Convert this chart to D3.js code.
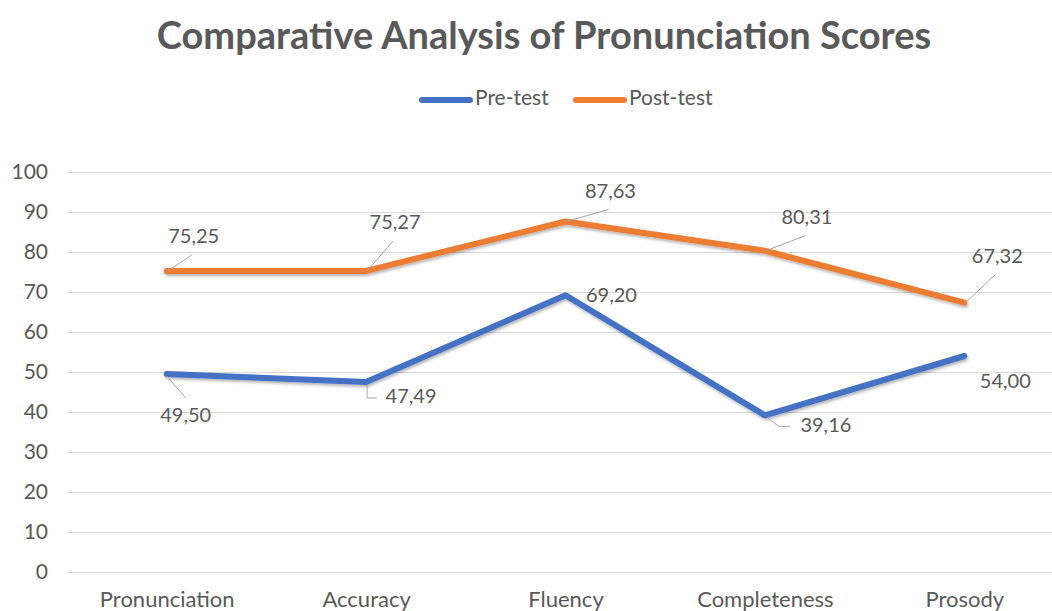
<!DOCTYPE html>
<html>
<head>
<meta charset="utf-8">
<script src="https://cdn.jsdelivr.net/npm/d3@7"></script>
<style>
  body { margin: 0; background: #fff; }
  text { font-family: Lato, "Open Sans", sans-serif; fill: #595959; }
</style>
</head>
<body>
<div id="wrapper"></div>
<script>
// chart data
const categories = ["Pronunciation", "Accuracy", "Fluency", "Completeness", "Prosody"]
const preTest = [49.50, 47.49, 69.20, 39.16, 54.00]
const postTest = [75.25, 75.27, 87.63, 80.31, 67.32]
const seriesNames = ["Pre-test", "Post-test"]
const yTicks = [0, 10, 20, 30, 40, 50, 60, 70, 80, 90, 100]

// label placement relative to each point (dx, dy) and leader style
const preLabelPos = [[19, 43], [45, 16], [46, 2], [61, 12], [41, 27]]
const preLeader = ["diag", "drop", "none", "kink", "none"]
const postLabelPos = [[27, -33], [29, -47], [45, -29], [42, -32], [33, -45]]
const postLeader = ["diag", "diag", "diag", "diag", "diag"]

const colors = ["#4472C4", "#ED7D31"]

let dimensions = {
  width: 1052,
  height: 611,
  margin: {
    top: 172,
    right: -12,
    bottom: 39,
    left: 67,
  },
}
dimensions.boundedWidth = dimensions.width
  - dimensions.margin.left
  - dimensions.margin.right
dimensions.boundedHeight = dimensions.height
  - dimensions.margin.top
  - dimensions.margin.bottom

const wrapper = d3.select("#wrapper")
  .append("svg")
    .attr("width", dimensions.width)
    .attr("height", dimensions.height)

const defs = wrapper.append("defs")
const shadow = defs.append("filter").attr("id", "shadow")
  .attr("x", "-5%").attr("y", "-20%").attr("width", "110%").attr("height", "140%")
shadow.append("feDropShadow")
  .attr("dx", 1).attr("dy", 2).attr("stdDeviation", 1.5)
  .attr("flood-color", "#000").attr("flood-opacity", 0.3)

// title
wrapper.append("text")
  .attr("x", 544)
  .attr("y", 49)
  .attr("text-anchor", "middle")
  .style("font-size", "38px")
  .style("font-weight", "bold")
  .text("Comparative Analysis of Pronunciation Scores")

// legend
const legendItems = [
  { x: 420, name: seriesNames[0], color: colors[0] },
  { x: 574, name: seriesNames[1], color: colors[1] },
]
const legendGroup = wrapper.append("g")
legendItems.forEach(d => {
  legendGroup.append("line")
    .attr("x1", d.x + 2).attr("x2", d.x + 50)
    .attr("y1", 100).attr("y2", 100)
    .attr("stroke", d.color)
    .attr("stroke-width", 6)
    .attr("stroke-linecap", "round")
  legendGroup.append("text")
    .attr("x", d.x + 55).attr("y", 100)
    .attr("dominant-baseline", "middle")
    .style("font-size", "21px")
    .text(d.name)
})

const bounds = wrapper.append("g")
  .attr("transform", `translate(${dimensions.margin.left},${dimensions.margin.top})`)

const xScale = d3.scalePoint()
  .domain(categories)
  .range([0, dimensions.boundedWidth])
  .padding(0.5)

const yScale = d3.scaleLinear()
  .domain([0, 100])
  .range([dimensions.boundedHeight, 0])

// gridlines + y axis
const yAxis = bounds.append("g")
  .call(d3.axisLeft(yScale)
    .tickValues(yTicks)
    .tickSize(-dimensions.boundedWidth)
    .tickPadding(19))
yAxis.select(".domain").remove()
yAxis.selectAll(".tick line").attr("stroke", "#d9d9d9").attr("stroke-width", 1.2)
yAxis.selectAll(".tick text")
  .style("font-size", "21px")
  .style("fill", "#595959")
  .attr("font-family", null)

// x axis labels
const xAxis = bounds.append("g")
  .attr("transform", `translate(0,${dimensions.boundedHeight})`)
  .call(d3.axisBottom(xScale).tickSize(0).tickPadding(19))
xAxis.select(".domain").attr("stroke", "#d9d9d9").attr("stroke-width", 1.2)
xAxis.selectAll(".tick text")
  .style("font-size", "22px")
  .style("fill", "#595959")
  .attr("font-family", null)

const lineGenerator = d3.line()
  .x((d, i) => xScale(categories[i]))
  .y(d => yScale(d))

const series = [
  { values: preTest, color: colors[0], pos: preLabelPos, leader: preLeader },
  { values: postTest, color: colors[1], pos: postLabelPos, leader: postLeader },
]

const fmt = v => d3.format(".2f")(v).replace(".", ",")

series.forEach(s => {
  const g = bounds.append("g")
  g.append("path")
    .attr("d", lineGenerator(s.values))
    .attr("fill", "none")
    .attr("stroke", s.color)
    .attr("stroke-width", 6)
    .attr("stroke-linejoin", "round")
    .attr("stroke-linecap", "round")
    .attr("filter", "url(#shadow)")

  const leaders = g.append("g")

  s.values.forEach((v, i) => {
    const px = xScale(categories[i])
    const py = yScale(v)
    const cx = px + s.pos[i][0]
    const cy = py + s.pos[i][1]
    const label = g.append("text")
      .attr("x", cx).attr("y", cy)
      .attr("text-anchor", "middle")
      .attr("dominant-baseline", "middle")
      .style("font-size", "20px")
      .text(fmt(v))
    const left = cx - label.node().getComputedTextLength() / 2
    const type = s.leader[i]
    let pts = null
    if (type == "diag") {
      pts = cy > py
        ? [[px, py + 2], [cx, cy - 19]]
        : [[px + 1, py], [cx - 2, cy + 17]]
    } else if (type == "drop") {
      pts = [[px + 1, py + 3], [px + 1, cy], [left - 9, cy]]
    } else if (type == "kink") {
      pts = [[px + 2, py + 2], [px + 14, cy - 1], [px + 18, cy - 1], [left - 10, cy - 1]]
    }
    if (pts) {
      leaders.append("polyline")
        .attr("points", pts.map(p => p.join(",")).join(" "))
        .attr("fill", "none")
        .attr("stroke", "#a6a6a6").attr("stroke-width", 1)
    }
  })
})
</script>
</body>
</html>
